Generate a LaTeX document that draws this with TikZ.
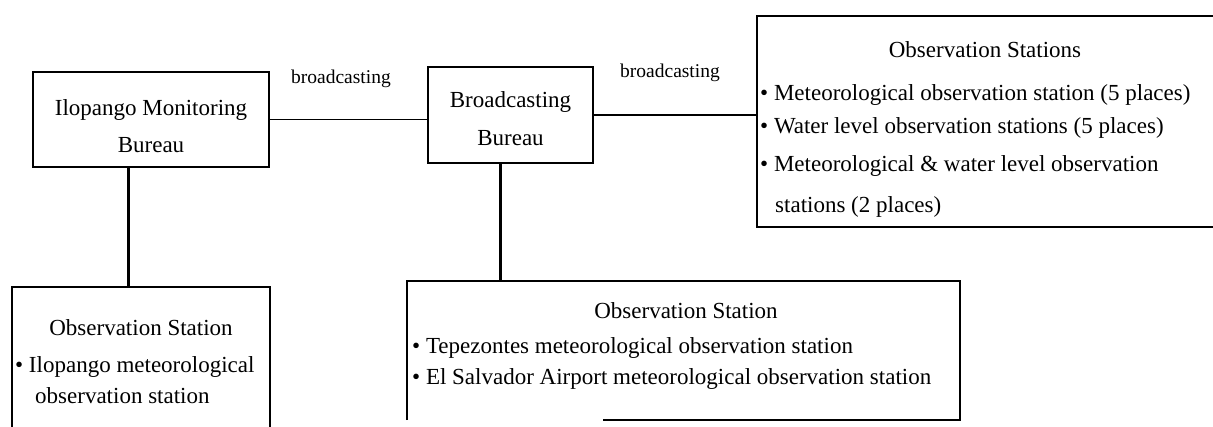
\documentclass[tikz,border=0pt]{standalone}
\usepackage{fontspec}
\setmainfont{Liberation Serif}
\usetikzlibrary{calc}
\begin{document}
\begin{tikzpicture}[x=1pt,y=-1pt,
  frame/.style={draw, line width=1.8pt, inner sep=0pt},
  txt/.style={font=\fontsize{23}{28}\selectfont, inner sep=0pt, text height=16pt, text depth=5pt},
  note/.style={font=\fontsize{19.5}{24}\selectfont, inner sep=0pt, text height=14pt, text depth=4pt},
  hlink/.style={line width=1.4pt},
  vlink/.style={line width=3pt}]
\clip (0,0) rectangle (1213,426);

% Ilopango Monitoring Bureau
\node[frame, minimum width=236pt, minimum height=95pt] (A) at (151,119.5) {};
\node[txt] (A1) at (151,110) {Ilopango Monitoring};
\node[txt] (A2) at (151,147) {Bureau};

% Broadcasting Bureau
\node[frame, minimum width=165pt, minimum height=96pt] (B) at (510.5,115) {};
\node[txt] (B1) at (510.5,102) {Broadcasting};
\node[txt] (B2) at (510.5,140) {Bureau};

% Observation stations on the broadcasting network
\node[frame, minimum width=459pt, minimum height=211pt] (S) at (986.5,121.5) {};
\node[txt] (S0) at (985,52) {Observation Stations};
\node[txt, anchor=west] (S1) at (760,95) {\textbullet\ Meteorological observation station (5 places)};
\node[txt, anchor=west] (S2) at (760,128) {\textbullet\ Water level observation stations (5 places)};
\node[txt, anchor=west] (S3) at (760,166) {\textbullet\ Meteorological \& water level observation};
\node[txt, anchor=west] (S4) at (775,207) {stations (2 places)};

% Station under the Ilopango bureau
\node[frame, minimum width=258pt, minimum height=163pt] (C) at (141,368.5) {};
\node[txt] (C0) at (141,330) {Observation Station};
\node[txt, anchor=west] (C1) at (15,367) {\textbullet\ Ilopango meteorological};
\node[txt, anchor=west] (C2) at (35,398) {observation station};

% Stations under the broadcasting bureau
\node[minimum width=553pt, minimum height=139pt, inner sep=0pt] (D) at (683.5,350.5) {};
\draw[line width=1.8pt] (D.south west) -- (D.north west) -- (D.north east) -- (D.south east) -- ($(D.south west)+(196,0)$);
\node[txt] (D0) at (686,313) {Observation Station};
\node[txt, anchor=west] (D1) at (412,348) {\textbullet\ Tepezontes meteorological observation station};
\node[txt, anchor=west] (D2) at (412,379) {\textbullet\ El Salvador Airport meteorological observation station};

% link labels
\node[note] (L1) at (341,78) {broadcasting};
\node[note] (L2) at (670,72) {broadcasting};

% connectors
\coordinate (ax) at (128,0);
\coordinate (bx) at (500,0);
\draw[hlink] (A.east) -- (A.east -| B.west);
\draw[hlink] (B.east) -- (B.east -| S.west);
\draw[vlink] (A.south -| ax) -- (C.north -| ax);
\draw[vlink] (B.south -| bx) -- (D.north -| bx);
\end{tikzpicture}
\end{document}
